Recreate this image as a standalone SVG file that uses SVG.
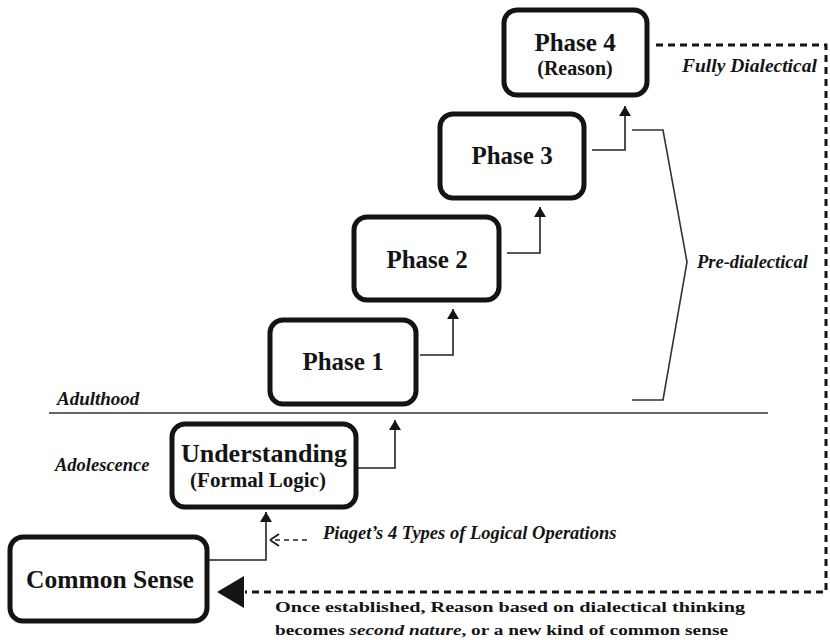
<svg xmlns="http://www.w3.org/2000/svg" width="830" height="640" viewBox="0 0 830 640">
  <style>
    .box { fill: #fff; stroke: #141414; stroke-width: 5; }
    .lbl { font-family: "Liberation Serif", "DejaVu Serif", serif; font-weight: bold; fill: #141414; text-anchor: middle; }
    .note { font-family: "Liberation Serif", "DejaVu Serif", serif; font-weight: bold; font-style: italic; fill: #141414; }
    .body { font-family: "Liberation Serif", "DejaVu Serif", serif; font-weight: bold; fill: #141414; font-size: 15px; }
    .link { fill: none; stroke: #222; stroke-width: 1.6; }
    .dash { fill: none; stroke: #141414; stroke-width: 3; stroke-dasharray: 7 5; }
  </style>
  <defs>
    <marker id="tip" viewBox="0 0 10 12" refX="10" refY="6" markerWidth="10" markerHeight="12" markerUnits="userSpaceOnUse" orient="auto">
      <path d="M0,0 L10,6 L0,12 Z" fill="#141414"/>
    </marker>
  </defs>
  <rect width="830" height="640" fill="#fff"/>

  <!-- stage divider -->
  <line x1="49" y1="413" x2="768" y2="413" stroke="#333" stroke-width="1.6"/>
  <text class="note" x="57" y="405" font-size="19">Adulthood</text>
  <text class="note" x="55" y="471" font-size="18.5">Adolescence</text>

  <!-- connectors -->
  <g id="connectors">
    <polyline class="link" points="208,560 266,560 266,512" marker-end="url(#tip)"/>
    <polyline class="link" points="357,468 395,468 395,420" marker-end="url(#tip)"/>
    <polyline class="link" points="420,355 453,355 453,309" marker-end="url(#tip)"/>
    <polyline class="link" points="507,253 540,253 540,207" marker-end="url(#tip)"/>
    <polyline class="link" points="592,150 625,150 625,106" marker-end="url(#tip)"/>
    <!-- input from Piaget's operations -->
    <line x1="307" y1="540" x2="274" y2="540" stroke="#222" stroke-width="1.6" stroke-dasharray="5 4"/>
    <path d="M270,540 L279,534 M270,540 L279,546" stroke="#222" stroke-width="2" fill="none"/>
    <!-- feedback loop from Reason to common sense -->
    <polyline class="dash" points="656,45 826,45 826,592 245,592"/>
    <path d="M217,592 L244,576 L244,608 Z" fill="#141414"/>
    <!-- bracket -->
    <polyline fill="none" stroke="#333" stroke-width="1.6" points="632,130 663,130 687,262 663,400 632,400"/>
  </g>

  <g id="common-sense">
    <rect class="box" x="10" y="537" width="197" height="84" rx="13"/>
    <text class="lbl" x="110" y="588" font-size="25.5">Common Sense</text>
  </g>

  <g id="understanding">
    <rect class="box" x="172" y="424" width="184" height="83" rx="13"/>
    <text class="lbl" x="264" y="462" font-size="26">Understanding</text>
    <text class="lbl" x="258" y="487" font-size="21">(Formal Logic)</text>
  </g>

  <g id="phase1">
    <rect class="box" x="270" y="320" width="146" height="84" rx="13"/>
    <text class="lbl" x="343" y="370" font-size="25">Phase 1</text>
  </g>

  <g id="phase2">
    <rect class="box" x="354" y="217" width="145" height="83" rx="13"/>
    <text class="lbl" x="427" y="268" font-size="25">Phase 2</text>
  </g>

  <g id="phase3">
    <rect class="box" x="440" y="114" width="144" height="84" rx="13"/>
    <text class="lbl" x="512" y="164" font-size="25">Phase 3</text>
  </g>

  <g id="phase4">
    <rect class="box" x="504" y="10" width="143" height="85" rx="13"/>
    <text class="lbl" x="575" y="51" font-size="25">Phase 4</text>
    <text class="lbl" x="575" y="75" font-size="20">(Reason)</text>
  </g>

  <text class="note" x="682" y="72" font-size="19.5">Fully Dialectical</text>
  <text class="note" x="697" y="268" font-size="18.5">Pre-dialectical</text>
  <text class="note" x="323" y="539" font-size="18.5">Piaget’s 4 Types of Logical Operations</text>

  <text class="body" x="275" y="612" textLength="470" lengthAdjust="spacingAndGlyphs">Once established, Reason based on dialectical thinking</text>
  <text class="body" x="275" y="635" textLength="453" lengthAdjust="spacingAndGlyphs">becomes <tspan font-style="italic">second nature</tspan>, or a new kind of common sense</text>
</svg>
